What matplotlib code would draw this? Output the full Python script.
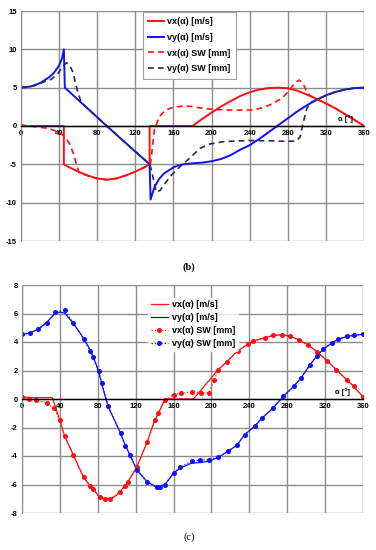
import matplotlib
matplotlib.use("Agg")
import matplotlib.pyplot as plt

plt.rcParams['font.family'] = ['Liberation Sans', 'DejaVu Sans']
plt.rcParams['axes.unicode_minus'] = False

# ---- (b) data ----
vx_a = [0, 45, 45, 50, 60, 70, 80, 90, 100, 110, 120, 130, 135, 135, 180, 190, 200, 210, 220,
        230, 240, 250, 260, 270, 280, 290, 300, 310, 320, 330, 340, 350, 360]
vx_v = [0, 0, -5, -5.35, -5.95, -6.45, -6.85, -7.0, -6.85, -6.45, -5.95, -5.35, -5, 0, 0, 0.9,
        1.75, 2.55, 3.25, 3.9, 4.4, 4.75, 4.95, 5.0, 4.93, 4.6, 4.1, 3.55, 2.95, 2.3, 1.55, 0.8, 0]

vy_a = [0, 10, 20, 30, 35, 40, 43, 45, 46, 90, 135, 136, 140, 145, 150, 155, 160, 165, 170, 180,
        190, 200, 210, 220, 230, 240, 250, 260, 270, 280, 290, 300, 310, 320, 330, 340, 350, 360]
vy_v = [5, 5.15, 5.6, 6.4, 7.0, 7.9, 8.8, 10, 5, 0, -5, -9.6, -8.0, -6.9, -6.2, -5.8, -5.4, -5.15,
        -5.0, -4.87, -4.78, -4.6, -4.3, -3.8, -3.1, -2.5, -1.7, -0.8, 0.1, 1.0, 1.9, 2.7, 3.4, 4.0,
        4.45, 4.75, 4.95, 5.0]

vxsw_a = [0, 15, 28, 39, 46, 51, 55, 58, 61, 70, 80, 90, 100, 110, 120, 130, 135, 136, 140, 145,
          152, 160, 170, 180, 191, 205, 220, 243, 254, 265, 275, 282, 287, 292, 296, 299, 303, 310,
          320, 330, 340, 350, 360]
vxsw_v = [0.15, -0.1, -0.3, -0.75, -1.4, -2.3, -3.6, -4.9, -6.1, -6.5, -6.85, -7.0, -6.85, -6.45,
          -5.95, -5.35, -5.0, -4.9, -0.5, 1.2, 2.1, 2.45, 2.6, 2.55, 2.3, 2.15, 2.08, 2.08, 2.4,
          2.95, 3.75, 4.7, 5.55, 6.0, 5.55, 4.7, 4.0, 3.55, 2.95, 2.3, 1.55, 0.8, 0]

vysw_a = [0, 14, 25, 32, 39, 44, 48, 51, 55, 57, 60, 63, 90, 135, 136, 142, 146, 151, 158, 166,
          177, 188, 198, 212, 226, 240, 261, 279, 289, 293, 296, 300, 305, 310, 320, 330, 340,
          350, 360]
vysw_v = [5, 5.25, 5.8, 6.1, 6.9, 7.8, 8.25, 7.9, 6.9, 5.6, 4.3, 3.1, 0, -5, -5.3, -8.6, -8.4,
          -7.5, -6.4, -5.4, -4.2, -2.9, -2.35, -2.05, -1.95, -1.9, -1.93, -2.0, -1.96, -1.4, 0.35,
          2.3, 3.15, 3.4, 4.0, 4.45, 4.75, 4.95, 5.0]

# ---- (c) data ----
bvx_a = [0, 10, 20, 32, 40, 45, 54, 65, 72, 75, 82, 87, 93, 100, 103, 109, 112, 121, 132, 140,
         144, 151, 181, 207, 216, 228, 239, 244, 257, 265, 274, 283, 292, 302, 311, 322, 332, 343,
         350, 360]
bvx_v = [0.15, 0.1, 0.1, 0.1, -1.5, -2.6, -3.9, -5.5, -6.1, -6.3, -6.9, -7.0, -7.05, -6.75, -6.5,
         -6.1, -5.8, -4.8, -3.05, -1.5, -1.0, 0, 0, 2.05, 2.6, 3.4, 3.85, 4.08, 4.3, 4.46, 4.5,
         4.42, 4.15, 3.8, 3.33, 2.7, 2.04, 1.34, 0.9, 0.15]

bvxsw_a = [0, 7, 15, 26, 34, 40, 45, 54, 65, 72, 75, 82, 88, 93, 103, 109, 112, 121, 132, 140,
           144, 151, 160, 168, 179, 189, 197, 203, 207, 216, 228, 239, 244, 257, 265, 274, 283,
           292, 302, 311, 322, 332, 343, 350, 360]
bvxsw_v = [0.15, 0.02, -0.07, -0.3, -0.65, -1.5, -2.6, -3.9, -5.5, -6.1, -6.3, -6.9, -7.0, -7.05,
           -6.5, -6.1, -5.8, -4.8, -3.05, -1.5, -1.0, -0.1, 0.3, 0.42, 0.5, 0.45, 0.42, 1.3,
           2.05, 2.6, 3.4, 3.85, 4.08, 4.3, 4.46, 4.5, 4.42, 4.15, 3.8, 3.33, 2.7, 2.04, 1.34,
           0.9, 0.15]

bvy_a = [0, 8, 17, 26, 35, 40, 45, 54, 65, 72, 75, 81, 84, 91, 96, 104, 109, 114, 121, 132, 142,
         151, 160, 167, 179, 190, 198, 207, 218, 227, 235, 246, 253, 265, 276, 287, 295, 304, 311,
         318, 327, 334, 343, 351, 360]
bvy_v = [4.55, 4.62, 4.9, 5.37, 6.0, 6.1, 6.03, 5.33, 4.27, 3.45, 3.0, 1.92, 1.1, -0.54, -1.25,
         -2.4, -3.24, -3.94, -4.95, -5.8, -6.17, -6.0, -5.2, -4.85, -4.5, -4.45, -4.35, -4.1,
         -3.65, -3.24, -2.5, -1.9, -1.36, -0.65, 0.2, 0.9, 1.5, 2.4, 3.0, 3.5, 3.92, 4.2, 4.39,
         4.47, 4.55]

bvysw_a = [0, 8, 17, 26, 35, 45, 54, 65, 72, 75, 81, 84, 91, 104, 109, 114, 121, 132, 142, 146,
           151, 160, 167, 179, 188, 197, 207, 218, 227, 235, 246, 253, 265, 276, 287, 295, 304,
           311, 318, 327, 334, 343, 351, 360]
bvysw_v = [4.55, 4.62, 4.9, 5.3, 6.1, 6.25, 5.35, 4.2, 3.4, 2.95, 1.95, 1.1, -0.5, -2.4, -3.3,
           -3.9, -4.95, -5.85, -6.2, -6.15, -6.0, -5.2, -4.8, -4.37, -4.3, -4.25, -4.1, -3.65,
           -3.24, -2.5, -1.9, -1.35, -0.65, 0.2, 0.9, 1.5, 2.4, 3.0, 3.5, 3.92, 4.2, 4.39, 4.47,
           4.55]

x_ticks = [0, 40, 80, 120, 160, 200, 240, 280, 320, 360]
RED = '#ff1010'
BLUE = '#1010ff'
NAVY = '#1f2d5c'
GRID = '#8c8c8c'


def style_axes(ax, ylim, ystep):
    ax.set_xlim(0, 360)
    ax.set_ylim(*ylim)
    ax.set_xticks(x_ticks)
    ax.set_yticks(range(ylim[0], ylim[1] + 1, ystep))
    ax.grid(True, color=GRID, lw=1.0)
    ax.set_axisbelow(True)
    for s in ['top', 'right']:
        ax.spines[s].set_visible(False)
    ax.spines['left'].set_color(GRID)
    ax.spines['bottom'].set_position(('data', 0))
    ax.spines['bottom'].set_color('black')
    ax.spines['bottom'].set_linewidth(1.0)
    ax.tick_params(length=0, labelsize=5.5, pad=3)
    for lab in ax.get_xticklabels() + ax.get_yticklabels():
        lab.set_fontweight('bold')


fig = plt.figure(figsize=(3.76, 5.5), dpi=100)

# (b)
ax1 = fig.add_axes([21 / 376, 1 - 241 / 550, 343 / 376, 230 / 550])
ax1.plot(vx_a, vx_v, color=RED, lw=1.4, label='vx(α) [m/s]')
ax1.plot(vy_a, vy_v, color=BLUE, lw=1.4, label='vy(α) [m/s]')
ax1.plot(vxsw_a, vxsw_v, color=RED, lw=1.2, ls=(0, (3.5, 2.5)), label='vx(α) SW [mm]')
ax1.plot(vysw_a, vysw_v, color=NAVY, lw=1.2, ls=(0, (3.5, 2.5)), label='vy(α) SW [mm]')
style_axes(ax1, (-15, 15), 5)
ax1.text(340, 0.4, 'α [°]', fontsize=5.5, fontweight='bold', ha='center', va='bottom')
leg1 = ax1.legend(loc='upper left', bbox_to_anchor=(0.355, 0.997), fontsize=6.5,
                  prop={'weight': 'bold', 'size': 6.5}, frameon=True, fancybox=False,
                  edgecolor='#a0a0a0', framealpha=1, borderpad=0.6, labelspacing=0.75,
                  handlelength=1.7, handletextpad=0.4, borderaxespad=0)
leg1.get_frame().set_linewidth(0.8)

# (c)
ax2 = fig.add_axes([22 / 376, 1 - 513 / 550, 341 / 376, 228 / 550])
ax2.plot(bvx_a, bvx_v, color=RED, lw=0.9, label='vx(α) [m/s]')
ax2.plot(bvy_a, bvy_v, color=BLUE, lw=0.9, label='vy(α) [m/s]')
ax2.plot(bvxsw_a, bvxsw_v, color=RED, lw=0.9, ls=':', marker='o', ms=2.6,
         label='vx(α) SW [mm]')
ax2.plot(bvysw_a, bvysw_v, color=BLUE, lw=0.9, ls=':', marker='o', ms=2.6,
         label='vy(α) SW [mm]')
style_axes(ax2, (-8, 8), 2)
ax2.text(338, 0.2, 'α [°]', fontsize=5.5, fontweight='bold', ha='center', va='bottom')
leg2 = ax2.legend(loc='upper left', bbox_to_anchor=(0.37, 0.945),
                  prop={'weight': 'bold', 'size': 6.5}, frameon=False,
                  borderpad=0.3, labelspacing=0.45,
                  handlelength=1.9, handletextpad=0.4, borderaxespad=0)
leg2.get_frame().set_facecolor('white')
leg2.set_frame_on(True)
leg2.get_frame().set_edgecolor('white')

fig.text(189 / 376, 1 - 267 / 550, '(b)', family='Liberation Serif', fontsize=7.5,
         fontweight='bold', ha='center', va='center')
fig.text(189 / 376, 1 - 537 / 550, '(c)', family='Liberation Serif', fontsize=7.5,
         ha='center', va='center')

fig.savefig('out.png', dpi=100)
